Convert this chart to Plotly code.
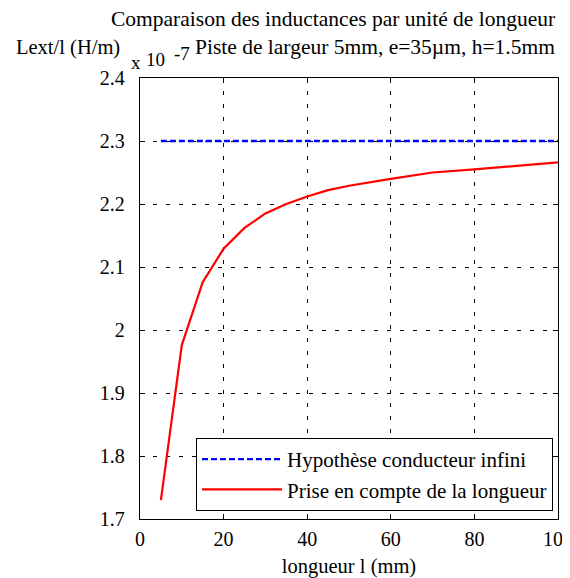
import plotly.graph_objects as go

# Data
longueur = [5, 10, 15, 20, 25, 30, 35, 40, 45, 50, 60, 70, 80, 90, 100]
L_longueur = [1.730, 1.976, 2.076, 2.129, 2.162, 2.185, 2.200, 2.212, 2.222,
              2.229, 2.240, 2.250, 2.255, 2.261, 2.266]
L_infini = [2.30] * len(longueur)

x_ticks = [0, 20, 40, 60, 80, 100]
y_ticks = [1.7, 1.8, 1.9, 2.0, 2.1, 2.2, 2.3, 2.4]
y_ticktext = ["1.7", "1.8", "1.9", "2", "2.1", "2.2", "2.3", "2.4"]

FONT = "Liberation Serif, Times New Roman, serif"

fig = go.Figure()
fig.add_trace(go.Scatter(x=longueur, y=L_infini, mode="lines",
                         name="Hypothèse conducteur infini",
                         line=dict(color="#0000ff", width=2.4, dash="6px,3px")))
fig.add_trace(go.Scatter(x=longueur, y=L_longueur, mode="lines",
                         name="Prise en compte de la longueur",
                         line=dict(color="#ff0000", width=2.2)))

axis_common = dict(showline=True, linecolor="black", linewidth=1.3, mirror="ticks",
                   ticks="inside", ticklen=5, tickcolor="black", automargin=False,
                   showgrid=True, gridcolor="black", gridwidth=1, griddash="4px,9px",
                   zeroline=False, ticklabeloverflow="allow",
                   tickfont=dict(family=FONT, size=20, color="black"))

fig.update_xaxes(range=[0, 100], tickvals=x_ticks, ticktext=[str(v) for v in x_ticks],
                 ticklabelstandoff=2,
                 title=dict(text="longueur l (mm)", font=dict(family=FONT, size=20.5, color="black"),
                            standoff=12),
                 **axis_common)
fig.update_yaxes(range=[1.7, 2.4], tickvals=y_ticks, ticktext=y_ticktext,
                 ticklabelstandoff=10, **axis_common)

# page body has an 8px margin: figure starts at (8, 8)
OFF = 8
PL, PR, PT, PB = 140, 558, 78, 519
W, H = PR - PL, PB - PT
annotations = [
    dict(text="Comparaison des inductances par unité de longueur", x=557, y=19,
         xanchor="right", size=21.5),
    dict(text="Piste de largeur 5mm, e=35µm, h=1.5mm", x=557, y=47, xanchor="right",
         size=21.5),
    dict(text="Lext/l (H/m)", x=122, y=48, xanchor="right", size=20.5),
    dict(text="x", x=129, y=62, xanchor="left", size=19),
    dict(text="10", x=144, y=60, xanchor="left", size=19),
    dict(text="-7", x=172, y=53, xanchor="left", size=19),
]
for a in annotations:
    fig.add_annotation(text=a["text"], xref="paper", yref="paper",
                       x=(a["x"] - PL) / W, y=(PB - a["y"]) / H, xanchor=a["xanchor"],
                       yanchor="middle", showarrow=False,
                       font=dict(family=FONT, size=a["size"], color="black"))

fig.update_layout(
    width=570 - OFF, height=578 - OFF,
    margin=dict(l=PL - OFF, r=570 - PR, t=PT - OFF, b=578 - PB, autoexpand=False),
    paper_bgcolor="white", plot_bgcolor="white",
    font=dict(family=FONT, size=20, color="black"),
    showlegend=True,
    legend=dict(x=(553 - PL) / W, y=(PB - 511) / H, xanchor="right", yanchor="bottom",
                bgcolor="white", bordercolor="black", borderwidth=1,
                font=dict(family=FONT, size=21, color="black"),
                itemwidth=80, tracegroupgap=0),
)

fig.write_html("out.html")
